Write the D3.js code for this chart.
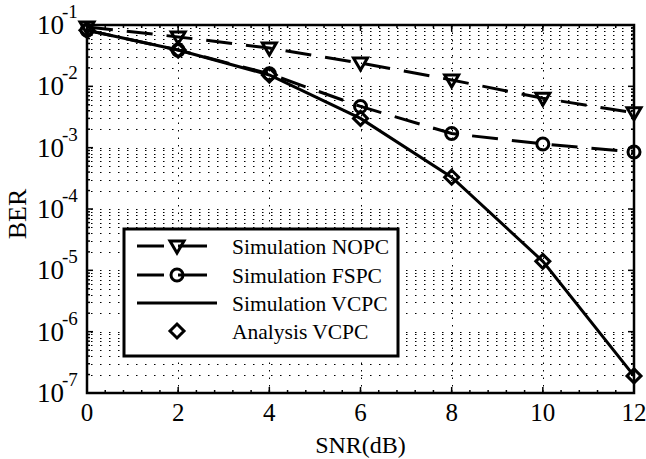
<!DOCTYPE html>
<html><head><meta charset="utf-8">
<script src="https://cdn.jsdelivr.net/npm/d3@7"></script>
<style>body{margin:0;background:#fff}svg{display:block}text{font-family:"Liberation Serif","Times New Roman",serif;fill:#000}</style>
</head><body><svg id="c" width="646" height="459"></svg>
<script>
const snr = [0, 2, 4, 6, 8, 10, 12];
const nopc = [0.093, 0.064, 0.042, 0.024, 0.0127, 0.0064, 0.0037];
const fspc = [0.082, 0.039, 0.016, 0.0047, 0.0017, 0.00115, 0.00085];
const vcpc = [0.082, 0.039, 0.0153, 0.0030, 0.00033, 0.000014, 0.00000019];
const analysis = [0.082, 0.039, 0.0153, 0.0030, 0.00033, 0.000014, 0.00000019];
const xTicks = [0, 2, 4, 6, 8, 10, 12];
const yExps = [-7, -6, -5, -4, -3, -2, -1];
const legendLabels = ["Simulation NOPC", "Simulation FSPC", "Simulation VCPC", "Analysis VCPC"];

const svg = d3.select("#c");
const L = 87, R = 634, T = 25, B = 393;
const x = d3.scaleLinear().domain([0, 12]).range([L, R]);
const y = d3.scaleLog().domain([1e-7, 1e-1]).range([B, T]);

// grid
const g = svg.append("g");
const minorY = [];
for (let e = -7; e < -1; e++) for (let m = 2; m <= 9; m++) minorY.push(m * Math.pow(10, e));
const majorY = yExps.slice(1, -1).map(e => Math.pow(10, e));
g.selectAll(".hg").data(minorY.concat(majorY)).enter().append("line")
  .attr("x1", L).attr("x2", R).attr("y1", d => Math.round(y(d)) + 0.5).attr("y2", d => Math.round(y(d)) + 0.5)
  .attr("stroke", "#000").attr("stroke-width", 1).attr("stroke-dasharray", "1.5,7.5").attr("stroke-dashoffset", -4);
g.selectAll(".vg").data(xTicks.slice(1, -1)).enter().append("line")
  .attr("x1", d => Math.round(x(d)) + 0.5).attr("x2", d => Math.round(x(d)) + 0.5).attr("y1", T).attr("y2", B)
  .attr("stroke", "#000").attr("stroke-width", 1).attr("stroke-dasharray", "1.5,6");

// ticks
const tk = svg.append("g").attr("stroke", "#000").attr("stroke-width", 1.5);
xTicks.forEach(v => {
  tk.append("line").attr("x1", x(v)).attr("x2", x(v)).attr("y1", B).attr("y2", B - 6);
  tk.append("line").attr("x1", x(v)).attr("x2", x(v)).attr("y1", T).attr("y2", T + 6);
});
d3.range(0, 12.01, 0.4).forEach(v => {
  tk.append("line").attr("x1", x(v)).attr("x2", x(v)).attr("y1", B).attr("y2", B - 3);
  tk.append("line").attr("x1", x(v)).attr("x2", x(v)).attr("y1", T).attr("y2", T + 3);
});
yExps.forEach(e => {
  const yy = y(Math.pow(10, e));
  tk.append("line").attr("x1", L).attr("x2", L + 6).attr("y1", yy).attr("y2", yy);
  tk.append("line").attr("x1", R).attr("x2", R - 6).attr("y1", yy).attr("y2", yy);
});
minorY.forEach(v => {
  tk.append("line").attr("x1", L).attr("x2", L + 3).attr("y1", y(v)).attr("y2", y(v));
  tk.append("line").attr("x1", R).attr("x2", R - 3).attr("y1", y(v)).attr("y2", y(v));
});

// frame
svg.append("rect").attr("x", L).attr("y", T).attr("width", R - L).attr("height", B - T)
  .attr("fill", "none").attr("stroke", "#000").attr("stroke-width", 2.5);

// tick labels
svg.selectAll(".xt").data(xTicks).enter().append("text")
  .attr("x", d => x(d)).attr("y", 421).attr("text-anchor", "middle")
  .attr("font-size", 25).text(d => d);
yExps.forEach(e => {
  const yy = y(Math.pow(10, e));
  svg.append("text").attr("x", 64).attr("y", yy + 9).attr("text-anchor", "end").attr("font-size", 27).text("10");
  svg.append("text").attr("x", 62).attr("y", yy - 7).attr("font-size", 19).text(String(e));
});

svg.append("text").attr("x", x(6)).attr("y", 453).attr("text-anchor", "middle").attr("font-size", 24).text("SNR(dB)");
svg.append("text").attr("transform", "translate(26,214) rotate(-90)").attr("text-anchor", "middle").attr("font-size", 26).text("BER");

// lines
const lineGen = arr => d3.line().x((d, i) => x(snr[i])).y(d => y(d))(arr);
const plot = svg.append("g");
plot.append("path").attr("d", lineGen(nopc)).attr("fill", "none").attr("stroke", "#000").attr("stroke-width", 3).attr("stroke-dasharray", "26,14");
plot.append("path").attr("d", lineGen(fspc)).attr("fill", "none").attr("stroke", "#000").attr("stroke-width", 3).attr("stroke-dasharray", "26,14");
plot.append("path").attr("d", lineGen(vcpc)).attr("fill", "none").attr("stroke", "#000").attr("stroke-width", 3);

function triDown(cx, cy) {
  return `M${cx - 7},${cy - 5}L${cx + 7},${cy - 5}L${cx},${cy + 7}Z`;
}
function diamond(cx, cy) {
  return `M${cx},${cy - 7}L${cx + 7},${cy}L${cx},${cy + 7}L${cx - 7},${cy}Z`;
}
nopc.forEach((v, i) => plot.append("path").attr("d", triDown(x(snr[i]), y(v))).attr("fill", "none").attr("stroke", "#000").attr("stroke-width", 3));
fspc.forEach((v, i) => plot.append("circle").attr("cx", x(snr[i])).attr("cy", y(v)).attr("r", 6).attr("fill", "none").attr("stroke", "#000").attr("stroke-width", 3));
analysis.forEach((v, i) => plot.append("path").attr("d", diamond(x(snr[i]), y(v))).attr("fill", "none").attr("stroke", "#000").attr("stroke-width", 3));

// legend
const lg = svg.append("g");
lg.append("rect").attr("x", 124).attr("y", 229).attr("width", 274).attr("height", 127)
  .attr("fill", "#fff").attr("stroke", "#000").attr("stroke-width", 3);
const rows = [246, 275, 303, 331];
legendLabels.forEach((lab, i) => {
  const yy = rows[i];
  if (i < 2) {
    lg.append("line").attr("x1", 137).attr("x2", 164).attr("y1", yy).attr("y2", yy).attr("stroke", "#000").attr("stroke-width", 3);
    lg.append("line").attr("x1", 178).attr("x2", 207).attr("y1", yy).attr("y2", yy).attr("stroke", "#000").attr("stroke-width", 3);
  } else if (i === 2) {
    lg.append("line").attr("x1", 137).attr("x2", 217).attr("y1", yy).attr("y2", yy).attr("stroke", "#000").attr("stroke-width", 3);
  }
  if (i === 0) lg.append("path").attr("d", triDown(177, yy)).attr("fill", "none").attr("stroke", "#000").attr("stroke-width", 3);
  if (i === 1) lg.append("circle").attr("cx", 177).attr("cy", yy).attr("r", 6).attr("fill", "none").attr("stroke", "#000").attr("stroke-width", 3);
  if (i === 3) lg.append("path").attr("d", diamond(177, yy)).attr("fill", "none").attr("stroke", "#000").attr("stroke-width", 3);
  lg.append("text").attr("x", 232).attr("y", yy + 8).attr("font-size", 21.5).text(lab);
});
</script></body></html>
